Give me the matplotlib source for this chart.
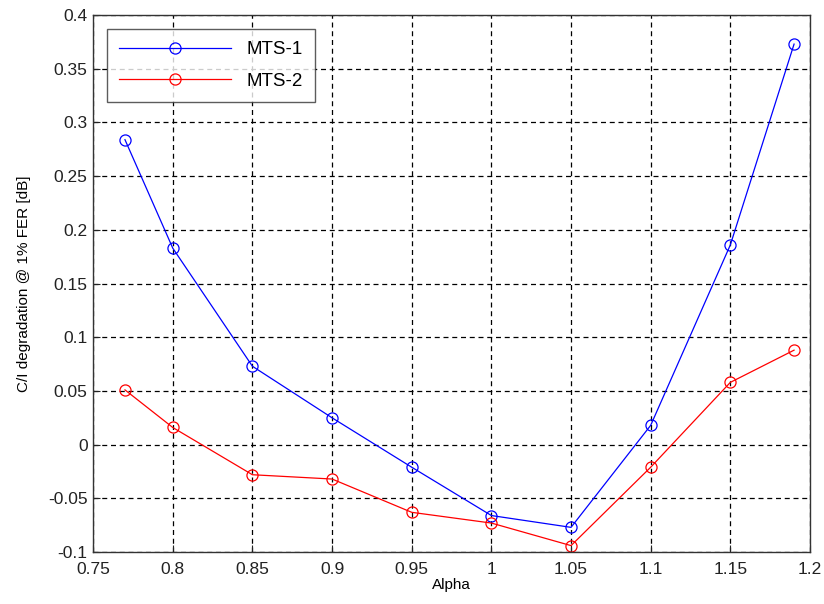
import numpy as np
import matplotlib.pyplot as plt

plt.rcParams['font.family'] = ['Liberation Sans', 'DejaVu Sans']

alpha = [0.77, 0.80, 0.85, 0.90, 0.95, 1.00, 1.05, 1.10, 1.15, 1.19]
mts1 = [0.284, 0.183, 0.073, 0.025, -0.021, -0.066, -0.077, 0.018, 0.186, 0.373]
mts2 = [0.051, 0.016, -0.028, -0.032, -0.063, -0.073, -0.094, -0.021, 0.058, 0.088]

xticks = [0.75, 0.8, 0.85, 0.9, 0.95, 1, 1.05, 1.1, 1.15, 1.2]
xlabels = ['0.75', '0.8', '0.85', '0.9', '0.95', '1', '1.05', '1.1', '1.15', '1.2']
yticks = [-0.1, -0.05, 0, 0.05, 0.1, 0.15, 0.2, 0.25, 0.3, 0.35, 0.4]
ylabels = ['-0.1', '-0.05', '0', '0.05', '0.1', '0.15', '0.2', '0.25', '0.3', '0.35', '0.4']

fig = plt.figure(figsize=(8.24, 6.04), dpi=100)
ax = fig.add_axes([0.113, 0.086, 0.870, 0.889])

ax.plot(alpha, mts1, color='blue', lw=0.9, marker='o', ms=8, mfc='none', mew=0.9, label='MTS-1')
ax.plot(alpha, mts2, color='red', lw=0.9, marker='o', ms=8, mfc='none', mew=0.9, label='MTS-2')

ax.set_xlim(0.75, 1.2)
ax.set_ylim(-0.1, 0.4)
ax.set_xticks(xticks)
ax.set_xticklabels(xlabels)
ax.set_yticks(yticks)
ax.set_yticklabels(ylabels)
ax.tick_params(direction='in', length=5, labelsize=12.5, colors='#222222', width=0.8)
ax.tick_params(axis='y', pad=4)
ax.tick_params(axis='x', pad=7)
ax.grid(True, color='black', linestyle=(0, (4, 3)), linewidth=0.9)
for s in ax.spines.values():
    s.set_color('#333333')
    s.set_linewidth(1.0)

ax.set_xlabel('Alpha', fontsize=11, labelpad=1)
ax.set_ylabel('C/I degradation @ 1% FER [dB]', fontsize=11, labelpad=12)

leg = ax.legend(loc='upper left', bbox_to_anchor=(0.019, 0.974), fontsize=13.5,
                frameon=True, fancybox=False, edgecolor='#333333',
                handlelength=6, handletextpad=0.8, borderpad=0.65, labelspacing=0.75,
                borderaxespad=0)
leg.get_frame().set_linewidth(1.0)

fig.savefig('out.png', dpi=100)
